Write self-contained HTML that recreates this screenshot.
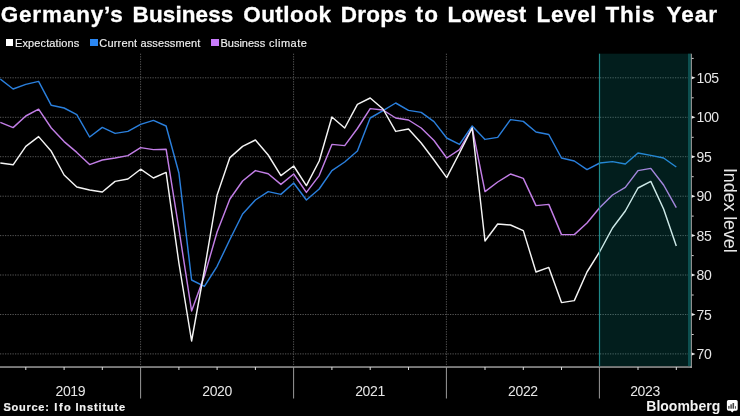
<!DOCTYPE html>
<html><head><meta charset="utf-8"><title>Germany’s Business Outlook</title>
<style>
html,body{margin:0;padding:0;background:#000;}
body{will-change:transform;width:740px;height:416px;position:relative;overflow:hidden;font-family:"Liberation Sans",sans-serif;color:#fff;}
.title{position:absolute;left:0;top:0;width:740px;height:30px;font-weight:bold;font-size:22.5px;line-height:22px;white-space:nowrap;-webkit-text-stroke:0.3px #fff;}
.title span{position:absolute;top:4px;}
.lgs{position:absolute;left:0;top:36.7px;width:400px;height:13px;font-size:11px;line-height:13px;white-space:nowrap;color:#f0f0f0;-webkit-text-stroke:0.15px #f0f0f0;}
.lgs span,.srcs span{position:absolute;top:0;}
.sq{position:absolute;top:39px;width:7.5px;height:7.4px;}
.yl{position:absolute;left:696.6px;font-size:14px;line-height:16px;letter-spacing:-0.45px;color:#e6e6e6;white-space:nowrap;}
.xl{position:absolute;top:382.7px;width:60px;text-align:center;font-size:14px;line-height:16px;letter-spacing:-0.4px;color:#e6e6e6;}
.ytitle{position:absolute;left:730.4px;top:168.2px;font-size:18px;line-height:18px;letter-spacing:-0.13px;color:#e6e6e6;white-space:nowrap;transform-origin:0 0;transform:rotate(90deg) translate(0,-50%);}
.srcs{position:absolute;left:0;top:401.1px;width:200px;height:13px;font-size:11px;line-height:13px;font-weight:bold;white-space:nowrap;color:#f2f2f2;-webkit-text-stroke:0.2px #f2f2f2;}
.bb{position:absolute;left:646.3px;top:397.8px;font-size:14px;line-height:16px;font-weight:bold;white-space:nowrap;color:#f2f2f2;letter-spacing:0px;}
</style></head><body>
<svg width="740" height="416" viewBox="0 0 740 416" style="position:absolute;left:0;top:0">
<line x1="0" x2="690" y1="77.8" y2="77.8" stroke="#565656" stroke-width="1" stroke-dasharray="1.25 1.25"/>
<line x1="0" x2="690" y1="117.3" y2="117.3" stroke="#565656" stroke-width="1" stroke-dasharray="1.25 1.25"/>
<line x1="0" x2="690" y1="156.7" y2="156.7" stroke="#565656" stroke-width="1" stroke-dasharray="1.25 1.25"/>
<line x1="0" x2="690" y1="196.2" y2="196.2" stroke="#565656" stroke-width="1" stroke-dasharray="1.25 1.25"/>
<line x1="0" x2="690" y1="235.6" y2="235.6" stroke="#565656" stroke-width="1" stroke-dasharray="1.25 1.25"/>
<line x1="0" x2="690" y1="275.0" y2="275.0" stroke="#565656" stroke-width="1" stroke-dasharray="1.25 1.25"/>
<line x1="0" x2="690" y1="314.5" y2="314.5" stroke="#565656" stroke-width="1" stroke-dasharray="1.25 1.25"/>
<line x1="0" x2="690" y1="353.9" y2="353.9" stroke="#565656" stroke-width="1" stroke-dasharray="1.25 1.25"/>
<line x1="140.6" x2="140.6" y1="53.7" y2="366" stroke="#565656" stroke-width="1" stroke-dasharray="1.25 1.25"/>
<line x1="293.6" x2="293.6" y1="53.7" y2="366" stroke="#565656" stroke-width="1" stroke-dasharray="1.25 1.25"/>
<line x1="446.4" x2="446.4" y1="53.7" y2="366" stroke="#565656" stroke-width="1" stroke-dasharray="1.25 1.25"/>
<rect x="0" y="366.1" width="691.6" height="1.9" fill="#7a7a7a"/>
<rect x="690.5" y="53.7" width="1.3" height="314.3" fill="#b0b0b0"/>
<rect x="140.1" y="367" width="1" height="31.5" fill="#999"/>
<rect x="293.1" y="367" width="1" height="31.5" fill="#999"/>
<rect x="445.9" y="367" width="1" height="31.5" fill="#999"/>
<rect x="598.9" y="367" width="1" height="31.5" fill="#999"/>
<rect x="25.3" y="367" width="1" height="3" fill="#ddd"/>
<rect x="63.6" y="367" width="1" height="3" fill="#ddd"/>
<rect x="101.8" y="367" width="1" height="3" fill="#ddd"/>
<rect x="178.4" y="367" width="1" height="3" fill="#ddd"/>
<rect x="216.6" y="367" width="1" height="3" fill="#ddd"/>
<rect x="254.9" y="367" width="1" height="3" fill="#ddd"/>
<rect x="331.4" y="367" width="1" height="3" fill="#ddd"/>
<rect x="369.7" y="367" width="1" height="3" fill="#ddd"/>
<rect x="408.0" y="367" width="1" height="3" fill="#ddd"/>
<rect x="484.5" y="367" width="1" height="3" fill="#ddd"/>
<rect x="522.8" y="367" width="1" height="3" fill="#ddd"/>
<rect x="561.0" y="367" width="1" height="3" fill="#ddd"/>
<rect x="637.5" y="367" width="1" height="3" fill="#ddd"/>
<rect x="675.8" y="367" width="1" height="3" fill="#ddd"/>
<path d="M691.7 76.3 L695.5 77.8 L691.7 79.3Z" fill="#e8e8e8"/>
<path d="M691.7 115.8 L695.5 117.3 L691.7 118.8Z" fill="#e8e8e8"/>
<path d="M691.7 155.2 L695.5 156.7 L691.7 158.2Z" fill="#e8e8e8"/>
<path d="M691.7 194.7 L695.5 196.2 L691.7 197.7Z" fill="#e8e8e8"/>
<path d="M691.7 234.1 L695.5 235.6 L691.7 237.1Z" fill="#e8e8e8"/>
<path d="M691.7 273.5 L695.5 275.0 L691.7 276.5Z" fill="#e8e8e8"/>
<path d="M691.7 313.0 L695.5 314.5 L691.7 316.0Z" fill="#e8e8e8"/>
<path d="M691.7 352.4 L695.5 353.9 L691.7 355.4Z" fill="#e8e8e8"/>
<rect x="691.7" y="57.9" width="2" height="1" fill="#ccc"/>
<rect x="691.7" y="97.3" width="2" height="1" fill="#ccc"/>
<rect x="691.7" y="136.8" width="2" height="1" fill="#ccc"/>
<rect x="691.7" y="176.2" width="2" height="1" fill="#ccc"/>
<rect x="691.7" y="215.6" width="2" height="1" fill="#ccc"/>
<rect x="691.7" y="255.1" width="2" height="1" fill="#ccc"/>
<rect x="691.7" y="294.5" width="2" height="1" fill="#ccc"/>
<rect x="691.7" y="334.0" width="2" height="1" fill="#ccc"/>
<polyline fill="none" stroke="#2a7fdc" stroke-width="1.45" stroke-linejoin="round" points="0.3,79.0 13.1,89.0 25.8,84.4 38.6,81.4 51.3,105.3 64.1,108.0 76.8,114.6 89.6,137.0 102.3,127.4 115.1,133.4 127.9,131.4 140.6,124.4 153.4,120.4 166.1,126.0 178.9,173.0 191.6,280.0 204.4,286.4 217.1,266.3 229.9,239.5 242.6,214.0 255.4,200.0 268.2,191.6 280.9,194.4 293.7,183.0 306.4,200.0 319.2,189.0 331.9,170.6 344.7,162.0 357.4,151.0 370.2,118.0 383.0,110.6 395.7,103.0 408.5,110.4 421.2,112.4 434.0,121.6 446.7,138.0 459.5,144.4 472.2,126.0 485.0,139.4 497.7,137.4 510.5,119.6 523.3,121.4 536.0,132.0 548.8,134.5 561.5,158.0 574.3,161.0 587.0,169.6 599.8,163.0 612.5,161.6 625.3,164.0 638.0,153.0 650.8,155.4 663.6,158.0 676.3,167.0"/>
<polyline fill="none" stroke="#c27ee6" stroke-width="1.45" stroke-linejoin="round" points="0.3,122.4 13.1,127.6 25.8,116.0 38.6,109.2 51.3,128.0 64.1,141.6 76.8,152.4 89.6,164.6 102.3,160.0 115.1,158.0 127.9,155.6 140.6,147.6 153.4,149.6 166.1,149.2 178.9,229.0 191.6,311.0 204.4,276.0 217.1,232.0 229.9,199.0 242.6,181.0 255.4,170.6 268.2,173.8 280.9,184.4 293.7,174.0 306.4,192.4 319.2,175.6 331.9,144.4 344.7,145.6 357.4,128.5 370.2,108.6 383.0,110.0 395.7,118.0 408.5,120.0 421.2,128.0 434.0,140.5 446.7,158.0 459.5,149.6 472.2,128.0 485.0,191.6 497.7,182.0 510.5,174.0 523.3,178.4 536.0,205.6 548.8,204.4 561.5,234.6 574.3,234.6 587.0,223.0 599.8,207.5 612.5,195.0 625.3,187.4 638.0,170.6 650.8,168.4 663.6,185.0 676.3,207.6"/>
<polyline fill="none" stroke="#f4f4f4" stroke-width="1.45" stroke-linejoin="round" points="0.3,163.0 13.1,164.8 25.8,146.4 38.6,136.6 51.3,151.3 64.1,175.0 76.8,187.0 89.6,190.0 102.3,192.0 115.1,181.4 127.9,179.0 140.6,169.2 153.4,178.0 166.1,172.4 178.9,263.0 191.6,341.0 204.4,270.0 217.1,195.0 229.9,157.6 242.6,146.4 255.4,140.0 268.2,155.0 280.9,175.6 293.7,166.0 306.4,185.6 319.2,161.0 331.9,117.0 344.7,128.0 357.4,104.4 370.2,98.0 383.0,109.0 395.7,131.4 408.5,129.0 421.2,143.0 434.0,160.0 446.7,177.6 459.5,153.0 472.2,128.0 485.0,241.0 497.7,224.0 510.5,225.0 523.3,230.6 536.0,272.0 548.8,267.4 561.5,302.6 574.3,300.6 587.0,272.0 599.8,251.5 612.5,228.0 625.3,211.0 638.0,188.0 650.8,181.4 663.6,209.0 676.3,246.0"/>
<rect x="599.4" y="53.7" width="91" height="312.4" fill="rgb(14,180,170)" fill-opacity="0.17"/>
<rect x="688" y="53.7" width="2.7" height="312.4" fill="#0c4f4f"/>
<rect x="598.9" y="53.7" width="1.2" height="312.4" fill="#1f8888"/>
</svg>
<div class="title"><span style="left:0.66px;letter-spacing:0.84px">Germany’s</span> <span style="left:132.56px;letter-spacing:0.11px">Business</span> <span style="left:243.18px;letter-spacing:0.46px">Outlook</span> <span style="left:340.76px;letter-spacing:0.26px">Drops</span> <span style="left:415.60px;letter-spacing:1.09px">to</span> <span style="left:447.56px;letter-spacing:0.22px">Lowest</span> <span style="left:536.52px;letter-spacing:0.63px">Level</span> <span style="left:605.40px;letter-spacing:0.92px">This</span> <span style="left:666.57px;letter-spacing:1.00px">Year</span></div>
<div class="sq" style="left:5.7px;background:#fff"></div>
<div class="sq" style="left:90px;background:#2b87f2"></div>
<div class="sq" style="left:211px;background:#c87bfa"></div>
<div class="lgs"><span style="left:14.96px;letter-spacing:0.13px">Expectations</span> <span style="left:99.35px;letter-spacing:0.17px">Current</span> <span style="left:140.38px;letter-spacing:0.15px">assessment</span> <span style="left:220.43px;letter-spacing:0.01px">Business</span> <span style="left:268.92px;letter-spacing:0.53px">climate</span></div>
<div class="yl" style="top:69.8px">105</div><div class="yl" style="top:109.3px">100</div><div class="yl" style="top:148.7px">95</div><div class="yl" style="top:188.2px">90</div><div class="yl" style="top:227.6px">85</div><div class="yl" style="top:267.0px">80</div><div class="yl" style="top:306.5px">75</div><div class="yl" style="top:345.9px">70</div>
<div class="xl" style="left:40.3px">2019</div><div class="xl" style="left:187.1px">2020</div><div class="xl" style="left:340.0px">2021</div><div class="xl" style="left:492.9px">2022</div><div class="xl" style="left:615.0px">2023</div>
<div class="ytitle">Index level</div>
<div class="srcs"><span style="left:3.53px;letter-spacing:0.73px">Source:</span> <span style="left:54.36px;letter-spacing:1.51px">Ifo</span> <span style="left:75.44px;letter-spacing:0.87px">Institute</span></div>
<div class="bb">Bloomberg</div>
<svg style="position:absolute;left:720px;top:394px" width="20" height="22" viewBox="720 394 20 22">
<path d="M728.5 399.9h7.6a1.6 1.6 0 0 1 1.6 1.6v7.6a1.6 1.6 0 0 1-1.6 1.6h-2.3l-1.6 1.9-1.6-1.9h-2.1a1.6 1.6 0 0 1-1.6-1.6v-7.6a1.6 1.6 0 0 1 1.6-1.6z" fill="#fff"/>
<rect x="728" y="405.9" width="1.7" height="2.8" fill="#666"/><rect x="730.3" y="404.3" width="1.6" height="4.4" fill="#555"/><rect x="732.5" y="403" width="1.6" height="5.7" fill="#444"/><rect x="735" y="406.2" width="1" height="2.5" fill="#555"/>
</svg>
</body></html>
